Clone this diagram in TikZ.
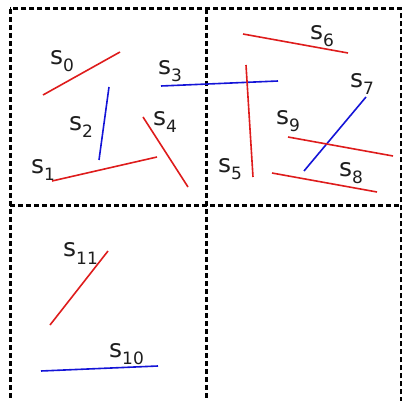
\documentclass[tikz,border=0pt]{standalone}
\usepackage{fontspec}
\setmainfont{DejaVu Sans}
\usepackage{xcolor}
\usepackage{tikz}
\usetikzlibrary{calc}
\definecolor{segred}{RGB}{222,28,28}
\definecolor{segblue}{RGB}{20,20,215}
\definecolor{labgray}{RGB}{30,30,30}
\newcommand{\seglab}[1]{s\raisebox{-7pt}{\fontsize{17}{18}\selectfont #1}}

\begin{document}
\begin{tikzpicture}[x=1pt,y=-1pt,font=\fontsize{25}{28}\selectfont]
  \tikzset{gridline/.style={draw,black,line width=3pt,dash pattern=on 5pt off 3pt},
           seg/.style={line width=1.6pt},
           lab/.style={anchor=base west,inner sep=0pt,text=labgray}}
  \useasboundingbox (0,0) rectangle (402,401);
  % ---------------- cells
  \draw[gridline] (10,9) rectangle (401,402.2);
  \draw[gridline] (206,9) -- (206,402.2);
  \draw[gridline] (10,206) -- (401,206);
  % ---------------- segments
  \foreach \k/\col/\ax/\ay/\bx/\by in {0/segred/43/95/120/52, 1/segred/52/181/157/157,
      2/segblue/109/87/99/160, 3/segblue/161/86/278/81, 4/segred/143/117/188/187,
      5/segred/246/65/253/177, 6/segred/243/34/348/53, 7/segblue/366/97/304/171,
      8/segred/272/173/377/192, 9/segred/288/137/393/156, 10/segblue/41/371/158/366,
      11/segred/50/325/108/251} {
    \coordinate (s\k a) at (\ax,\ay);
    \coordinate (s\k b) at (\bx,\by);
    \draw[seg,\col] (s\k a) -- (s\k b);
  }
  % ---------------- labels
  \foreach \k/\x/\y in {0/50/65, 1/31/174, 2/69/131, 3/158/75, 4/153/126, 5/218/173,
      6/310/40, 7/350/88, 8/339/177, 9/276/125, 10/109/357, 11/63/257} {
    \node[lab] (l\k) at (\x,\y) {\seglab{\k}};
  }
\end{tikzpicture}
\end{document}
